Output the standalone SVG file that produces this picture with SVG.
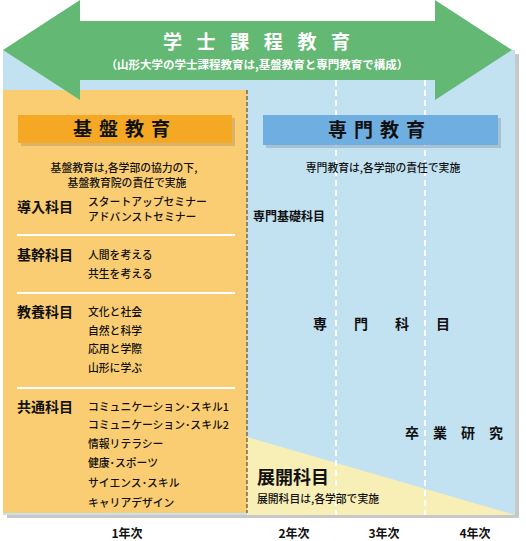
<svg xmlns="http://www.w3.org/2000/svg" width="526" height="541" viewBox="0 0 526 541">
<style>
text{font-family:"Noto Sans CJK JP","Noto Sans",sans-serif;fill:#111}
.h{font-size:14px;font-weight:bold}
.i{font-size:10.8px;font-weight:500}
.w{fill:#fff;font-weight:bold}
.yr{font-size:12px;font-weight:bold;text-anchor:middle}
.sep{stroke:#fff;stroke-width:2}
</style>
<rect width="526" height="541" fill="#fff"/>
<g id="background">
<rect x="7" y="54" width="512" height="464" fill="#9a9a9a" opacity="0.55"/>
<rect x="3" y="50" width="512" height="465" fill="#c2e2f2"/>
<polygon points="247,437 515,515 247,515" fill="#f8efb6"/>
<line x1="336" y1="80" x2="336" y2="515" stroke="#fff" stroke-width="2" stroke-dasharray="6,4"/>
<line x1="425" y1="80" x2="425" y2="515" stroke="#fff" stroke-width="2" stroke-dasharray="6,4"/>
<rect x="3" y="90" width="244" height="423" fill="#fbcd72"/>
<line x1="247" y1="90" x2="247" y2="513" stroke="#333" stroke-width="1" stroke-dasharray="4,2"/>
</g>
<g id="arrow">
<polygon points="3,50 80,0 80,21 435,21 435,0 512,50 435,100 435,80 80,80 80,100" fill="#63b874"/>
<text class="w" x="163" y="49" font-size="19" letter-spacing="14.6">学士課程教育</text>
<text class="w" x="257" y="69" font-size="11.5" text-anchor="middle">（山形大学の学士課程教育は,基盤教育と専門教育で構成）</text>
</g>
<g id="kiban">
<rect x="21" y="118" width="214" height="28" fill="#b89a60" opacity="0.5"/>
<rect x="18" y="115" width="214" height="28" fill="#f4a824"/>
<text x="125" y="136" font-size="19" font-weight="bold" text-anchor="middle" letter-spacing="7">基盤教育</text>
<text class="i" x="124" y="172" text-anchor="middle">基盤教育は,各学部の協力の下,</text>
<text class="i" x="127" y="187" text-anchor="middle">基盤教育院の責任で実施</text>
</g>
<g id="dounyu">
<text class="h" x="17" y="212">導入科目</text>
<text class="i" x="88" y="206">スタートアップセミナー</text>
<text class="i" x="88" y="221">アドバンストセミナー</text>
<line class="sep" x1="17" y1="235" x2="235" y2="235"/>
</g>
<g id="kikan">
<text class="h" x="17" y="260">基幹科目</text>
<text class="i" x="88" y="259">人間を考える</text>
<text class="i" x="88" y="278">共生を考える</text>
<line class="sep" x1="17" y1="293" x2="235" y2="293"/>
</g>
<g id="kyouyou">
<text class="h" x="17" y="317">教養科目</text>
<text class="i" x="88" y="316">文化と社会</text>
<text class="i" x="88" y="335">自然と科学</text>
<text class="i" x="88" y="353">応用と学際</text>
<text class="i" x="88" y="372">山形に学ぶ</text>
<line class="sep" x1="17" y1="388" x2="235" y2="388"/>
</g>
<g id="kyoutsu">
<text class="h" x="17" y="412">共通科目</text>
<text class="i" x="88" y="411">コミュニケーション･スキル1</text>
<text class="i" x="88" y="429">コミュニケーション･スキル2</text>
<text class="i" x="88" y="448">情報リテラシー</text>
<text class="i" x="88" y="467">健康･スポーツ</text>
<text class="i" x="88" y="487">サイエンス･スキル</text>
<text class="i" x="88" y="507">キャリアデザイン</text>
</g>
<g id="senmon">
<rect x="266" y="118" width="235" height="30" fill="#8a9aa8" opacity="0.45"/>
<rect x="263" y="115" width="235" height="30" fill="#6eaee0"/>
<text x="380" y="137" font-size="19" font-weight="bold" text-anchor="middle" letter-spacing="7">専門教育</text>
<text class="i" x="383" y="172" text-anchor="middle">専門教育は,各学部の責任で実施</text>
</g>
<g id="senmonkiso">
<text x="253" y="221" font-size="12" font-weight="bold">専門基礎科目</text>
</g>
<g id="senmonkamoku">
<text class="h" x="313" y="329" letter-spacing="27">専門科目</text>
</g>
<g id="sotsugyou">
<text class="h" x="405" y="438" letter-spacing="14">卒業研究</text>
</g>
<g id="tenkai">
<text x="257" y="484" font-size="18" font-weight="bold">展開科目</text>
<text class="i" x="257" y="503">展開科目は,各学部で実施</text>
</g>
<g id="years">
<text class="yr" x="127" y="538">1年次</text>
<text class="yr" x="294" y="538">2年次</text>
<text class="yr" x="384" y="538">3年次</text>
<text class="yr" x="475" y="538">4年次</text>
</g>
<g id="connectors"/>
</svg>
